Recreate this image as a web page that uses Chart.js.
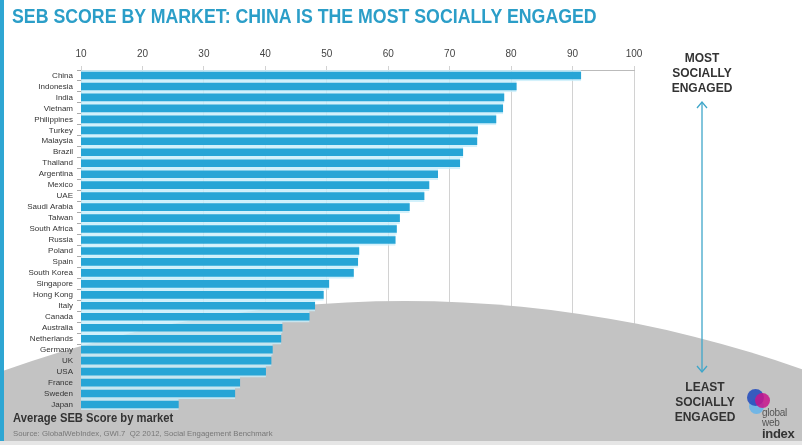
<!DOCTYPE html>
<html>
<head>
<meta charset="utf-8">
<script src="https://cdn.jsdelivr.net/npm/chart.js@4.4.1/dist/chart.umd.min.js"></script>
<style>
  html, body { margin: 0; padding: 0; background: #fff; }
  #wrap { position: relative; width: 802px; height: 445px; overflow: hidden; background: #fff; font-family: "Liberation Sans", Arial, sans-serif; }
  #seb { position: absolute; left: 0; top: 0; }
  .edge { position: absolute; left: 0; top: 0; width: 4px; height: 441px; background: #2ea6d3; }
  .foot { position: absolute; left: 0; top: 441px; width: 802px; height: 4px; background: #e6e6e6; }
  .title { position: absolute; left: 12px; top: 4px; font-weight: bold; font-size: 21px; color: #2b9ec8; white-space: nowrap; transform: scaleX(0.845); transform-origin: 0 0; }
  .side { position: absolute; width: 120px; text-align: center; font-weight: bold; font-size: 12px; line-height: 15px; color: #333; }
  .caption { position: absolute; left: 13px; top: 410px; font-weight: bold; font-size: 13.5px; color: #333; white-space: nowrap; transform: scaleX(0.83); transform-origin: 0 0; }
  .source { position: absolute; left: 13px; top: 429px; font-size: 8px; color: #777; white-space: nowrap; transform: scaleX(0.97); transform-origin: 0 0; }
  .logo { position: absolute; left: 747px; top: 389px; width: 55px; height: 52px; }
  .dot { position: absolute; border-radius: 50%; }
  .logo-text { position: absolute; left: 15px; top: 19px; font-size: 10px; line-height: 10px; color: #555; text-align: left; letter-spacing: -0.3px; }
</style>
</head>
<body>
<div id="wrap">
  <canvas id="seb" width="802" height="445"></canvas>
  <div class="edge"></div>
  <div class="foot"></div>
  <div class="title">SEB SCORE BY MARKET: CHINA IS THE MOST SOCIALLY ENGAGED</div>
  <div class="side" style="left:642px; top:51px;">MOST<br>SOCIALLY<br>ENGAGED</div>
  <svg style="position:absolute; left:690px; top:98px;" width="24" height="280">
    <line x1="12" y1="4" x2="12" y2="274" stroke="#3fa6c9" stroke-width="1.3"/>
    <polyline points="7,10 12,4 17,10" fill="none" stroke="#3fa6c9" stroke-width="1.3"/>
    <polyline points="7,268 12,274 17,268" fill="none" stroke="#3fa6c9" stroke-width="1.3"/>
  </svg>
  <div class="side" style="left:645px; top:380px;">LEAST<br>SOCIALLY<br>ENGAGED</div>
  <div class="caption">Average SEB Score by market</div>
  <div class="source">Source: GlobalWebIndex, GWI.7&nbsp;&nbsp;Q2 2012, Social Engagement Benchmark</div>
  <div class="logo">
    <div class="dot" style="left:2px; top:10px; width:15px; height:15px; background:rgba(100,180,235,0.85);"></div>
    <div class="dot" style="left:0px; top:0px; width:17px; height:17px; background:rgba(40,80,190,0.9);"></div>
    <div class="dot" style="left:8px; top:4px; width:15px; height:15px; background:rgba(200,20,140,0.85);"></div>
    <div class="logo-text">global<br>web<br><b style="color:#333;font-size:13px;line-height:12px;">index</b></div>
  </div>
</div>
<script>
const markets = ["China", "Indonesia", "India", "Vietnam", "Philippines", "Turkey", "Malaysia", "Brazil",
  "Thailand", "Argentina", "Mexico", "UAE", "Saudi Arabia", "Taiwan", "South Africa", "Russia", "Poland",
  "Spain", "South Korea", "Singapore", "Hong Kong", "Italy", "Canada", "Australia", "Netherlands",
  "Germany", "UK", "USA", "France", "Sweden", "Japan"];
const sebScores = [91.4, 80.9, 78.9, 78.7, 77.6, 74.6, 74.5, 72.2, 71.7, 68.1, 66.7, 65.9, 63.5, 61.9,
  61.4, 61.2, 55.3, 55.1, 54.4, 50.4, 49.5, 48.1, 47.2, 42.8, 42.6, 41.2, 41.0, 40.1, 35.9, 35.1, 25.9];
const scoreMin = 10;
const scoreMax = 100;
const scoreStep = 10;

// grey "planet" behind the lower bars, drawn over the grid but under the bars
const dome = {
  id: 'dome',
  beforeDatasetsDraw(chart) {
    let ctx = chart.ctx;
    ctx.save();
    ctx.fillStyle = '#c3c3c3';
    ctx.beginPath();
    ctx.arc(405, 1491, 1190, 0, Math.PI * 2);
    ctx.fill();
    ctx.restore();
  }
};

let ctx = document.getElementById('seb').getContext('2d');
new Chart(ctx, {
  type: 'bar',
  data: {
    labels: markets,
    datasets: [{
      label: 'Average SEB Score',
      data: sebScores,
      backgroundColor: '#27a5d6',
      borderColor: 'rgba(200, 238, 250, 0.8)',
      borderWidth: { top: 2, bottom: 2, left: 0, right: 0 },
      borderSkipped: false,
      barPercentage: 1,
      categoryPercentage: 1
    }]
  },
  plugins: [dome],
  options: {
    indexAxis: 'y',
    responsive: false,
    animation: false,
    layout: { padding: { left: 0, right: 168, top: 0, bottom: 35 } },
    scales: {
      x: {
        position: 'top',
        min: scoreMin,
        max: scoreMax,
        afterFit: s => { s.height = 70; },
        ticks: { stepSize: scoreStep, color: '#444', padding: 6, font: { family: 'Liberation Sans', size: 10 } },
        grid: { color: '#d2d2d2', tickLength: 4, lineWidth: 1 },
        border: { color: '#bbb' }
      },
      y: {
        afterFit: s => { s.width = 81; },
        ticks: { z: 1, color: '#333', padding: 4, autoSkip: false, font: { family: 'Liberation Sans', size: 8 } },
        grid: { drawOnChartArea: false, tickLength: 4, color: '#aaa' },
        border: { color: '#bbb' }
      }
    },
    plugins: {
      legend: { display: false },
      tooltip: { enabled: false }
    }
  }
});
</script>
</body>
</html>
